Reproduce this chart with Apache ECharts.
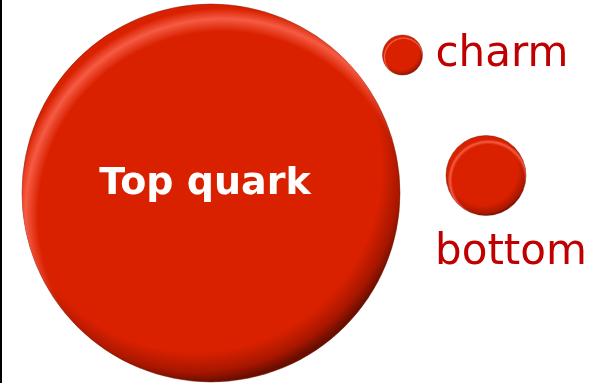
<!DOCTYPE html>
<html>
<head>
<meta charset="utf-8">
<script src="https://cdn.jsdelivr.net/npm/echarts@6/dist/echarts.min.js"></script>
<style>
  html, body { margin: 0; padding: 0; background: #fff; }
  #main { width: 595px; height: 383px; }
</style>
</head>
<body>
<div id="main"></div>
<script>
// quarks drawn as balls, placed on a hidden plane
var names = ['Top quark', 'charm', 'bottom'];
var xs = [211, 402.5, 486];
var ys = [190, 328, 207.5];
var diameters = [378, 40, 80];

// base: flat red, shading towards bottom-right
function baseFill(d) {
  var s = d > 200 ? 0.86 : 0.76;
  return {
    type: 'radial', x: 0.46, y: 0.43, r: 0.57,
    colorStops: [
      { offset: 0, color: '#d92100' },
      { offset: s, color: '#d92100' },
      { offset: 0.95, color: '#a81600' },
      { offset: 1, color: '#6a0e00' }
    ]
  };
}

// glossy bevel band along the top-left rim
function gloss(d) {
  var b = d > 200 ? 0.93 : 0.86;
  return {
    type: 'radial', x: 0.53, y: 0.56, r: 0.56,
    colorStops: [
      { offset: 0, color: 'rgba(255,110,90,0)' },
      { offset: b - 0.06, color: 'rgba(255,110,90,0)' },
      { offset: b, color: 'rgba(255,110,90,0.75)' },
      { offset: Math.min(b + 0.05, 1), color: 'rgba(255,110,90,0)' },
      { offset: 1, color: 'rgba(255,110,90,0)' }
    ]
  };
}

var labels = [
  { show: true, position: 'inside', offset: [-6, -9], color: '#fff',
    fontFamily: 'DejaVu Sans', fontWeight: 'bold', fontSize: 38 },
  { show: true, position: 'right', distance: 12, offset: [1, 0], color: '#c00000',
    fontFamily: 'DejaVu Sans', fontSize: 42 },
  { show: true, position: 'bottom', distance: 17, offset: [25, 0], color: '#c00000',
    fontFamily: 'DejaVu Sans', fontSize: 42 }
];

var baseData = names.map(function (n, i) {
  return {
    name: n,
    value: [xs[i], ys[i]],
    symbolSize: diameters[i],
    itemStyle: { color: baseFill(diameters[i]), opacity: 1,
      borderColor: 'rgba(110,20,0,0.45)', borderWidth: 1 }
  };
});

var glossData = names.map(function (n, i) {
  return {
    name: n,
    value: [xs[i], ys[i]],
    symbolSize: diameters[i],
    itemStyle: { color: gloss(diameters[i]), opacity: 1 },
    label: Object.assign({ formatter: '{b}', opacity: 1 }, labels[i])
  };
});

var chart = echarts.init(document.getElementById('main'));
chart.setOption({
  animation: false,
  grid: { left: 0, right: 0, top: 0, bottom: 0 },
  xAxis: { type: 'value', min: 0, max: 595, show: false },
  yAxis: {
    type: 'value', min: 0, max: 383,
    axisLine: { show: true, lineStyle: { color: '#000', width: 3 } },
    axisTick: { show: false }, axisLabel: { show: false }, splitLine: { show: false }
  },
  series: [
    { type: 'scatter', symbol: 'circle', silent: true, data: baseData },
    { type: 'scatter', symbol: 'circle', silent: true, data: glossData }
  ]
});
</script>
</body>
</html>
